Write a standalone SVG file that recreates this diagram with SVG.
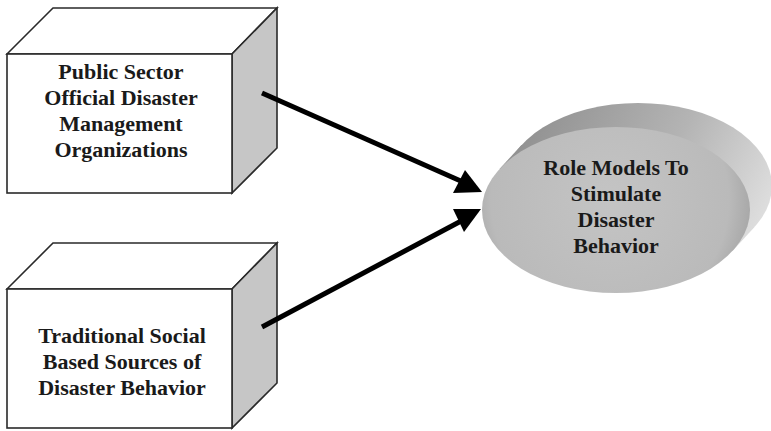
<svg xmlns="http://www.w3.org/2000/svg" width="771" height="431" viewBox="0 0 771 431">
  <style>
    .face { stroke: #2a2a2a; stroke-width: 1.6; stroke-linejoin: miter; }
    .front { fill: #ffffff; }
    .top { fill: #ffffff; }
    .side { fill: #c6c6c6; }
    .label { font-family: "Liberation Serif", "Times New Roman", serif; font-weight: bold; font-size: 22px; fill: #1a1a1a; text-anchor: middle; }
    .link { stroke: #000; stroke-width: 5; stroke-linecap: butt; fill: none; }
    .head { fill: #000; }
  </style>
  <defs>
    <linearGradient id="cylSide" gradientUnits="userSpaceOnUse" x1="520" y1="110" x2="770" y2="240">
      <stop offset="0" stop-color="#8e8e8e"/>
      <stop offset="0.55" stop-color="#b4b4b4"/>
      <stop offset="1" stop-color="#e4e4e4"/>
    </linearGradient>
    <radialGradient id="cylFront" gradientUnits="userSpaceOnUse" cx="610" cy="200" r="140">
      <stop offset="0" stop-color="#c4c4c4"/>
      <stop offset="0.85" stop-color="#bababa"/>
      <stop offset="1" stop-color="#a9a9a9"/>
    </radialGradient>
    <filter id="soft" x="-5%" y="-5%" width="110%" height="110%">
      <feGaussianBlur stdDeviation="0.7"/>
    </filter>
  </defs>

  <rect width="771" height="431" fill="#ffffff"/>

  <!-- Upper source box -->
  <g id="public-sector">
    <polygon class="face top" points="7,54 53,8 277,8 232,54"/>
    <polygon class="face side" points="232,54 277,8 277,148 232,193"/>
    <rect class="face front" x="7" y="54" width="225" height="139"/>
    <text class="label" x="121" y="79">Public Sector</text>
    <text class="label" x="121" y="105">Official Disaster</text>
    <text class="label" x="121" y="131">Management</text>
    <text class="label" x="121" y="157">Organizations</text>
  </g>

  <!-- Lower source box -->
  <g id="traditional-social">
    <polygon class="face top" points="7,289 53,243 277,243 232,289"/>
    <polygon class="face side" points="232,289 277,243 277,383 232,428"/>
    <rect class="face front" x="7" y="289" width="225" height="139"/>
    <text class="label" x="122" y="343">Traditional Social</text>
    <text class="label" x="122" y="369">Based Sources of</text>
    <text class="label" x="122" y="395">Disaster Behavior</text>
  </g>

  <!-- Target cylinder -->
  <g id="role-models">
    <g filter="url(#soft)">
      <ellipse cx="638" cy="186" rx="134" ry="83" fill="url(#cylSide)"/>
      <polygon points="499.5,169 521.5,145 754.5,227 732.5,251" fill="url(#cylSide)"/>
      <ellipse cx="616" cy="210" rx="134" ry="83" fill="url(#cylFront)"/>
    </g>
    <text class="label" x="616" y="175">Role Models To</text>
    <text class="label" x="616" y="201">Stimulate</text>
    <text class="label" x="616" y="227">Disaster</text>
    <text class="label" x="616" y="253">Behavior</text>
  </g>

  <!-- Connectors -->
  <g id="connectors">
    <line class="link" x1="262" y1="93" x2="463" y2="182"/>
    <polygon class="head" points="453,193 465,170 482,192"/>
    <line class="link" x1="262" y1="327" x2="463" y2="220"/>
    <polygon class="head" points="453,209 481,209 464,232"/>
  </g>
</svg>
